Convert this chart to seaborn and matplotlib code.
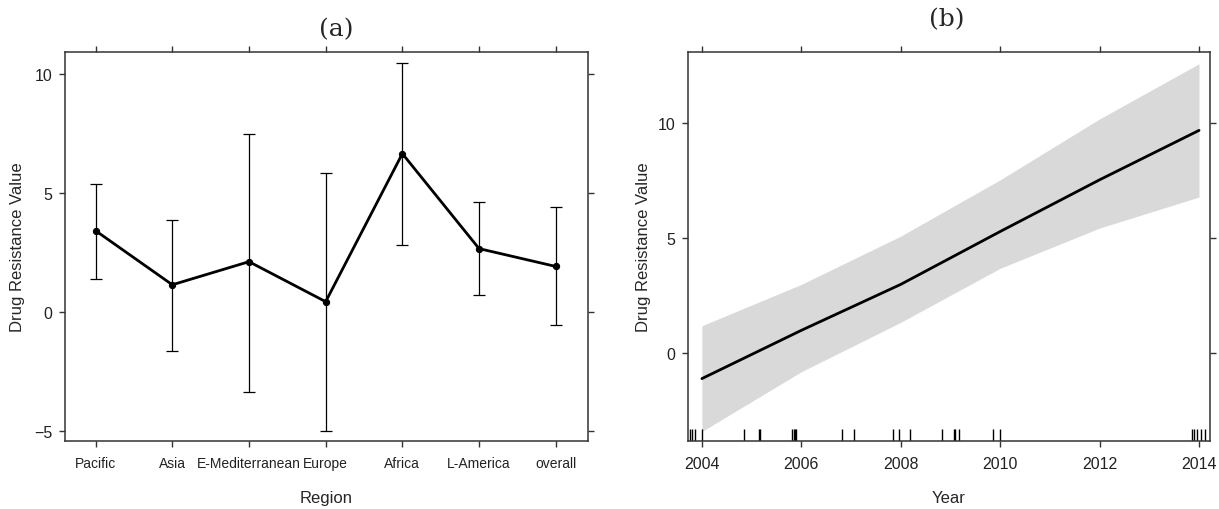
import numpy as np
import pandas as pd
import matplotlib
matplotlib.use('agg')
import seaborn as sns
import matplotlib.pyplot as plt

# panel (a): estimates by region with intervals
regions = ["Pacific", "Asia", "E-Mediterranean", "Europe", "Africa", "L-America", "overall"]
region_est = [3.4, 1.13, 2.1, 0.42, 6.64, 2.65, 1.9]
region_lo = [1.39, -1.64, -3.36, -5.0, 2.8, 0.7, -0.55]
region_hi = [5.35, 3.87, 7.48, 5.84, 10.46, 4.62, 4.4]

# panel (b): fitted trend over year with band
fit_year = [2004, 2006, 2008, 2010, 2012, 2014]
fit_value = [-1.1, 1.0, 3.0, 5.3, 7.55, 9.7]
fit_lo = [-3.4, -0.8, 1.35, 3.7, 5.45, 6.8]
fit_hi = [1.2, 3.0, 5.1, 7.55, 10.2, 12.6]

# observed years (rug)
obs_year = [2003.76, 2003.81, 2003.87, 2004.0, 2004.85, 2005.14, 2005.17,
            2005.82, 2005.85, 2005.88, 2005.90, 2006.82, 2007.06, 2007.84,
            2007.97, 2008.19, 2008.83, 2009.07, 2009.10, 2009.17, 2009.86,
            2010.0, 2013.86, 2013.90, 2013.95, 2014.04, 2014.12]

sns.set_style("ticks")
plt.rcParams['font.family'] = ['Liberation Sans', 'DejaVu Sans']
edge = '#333333'
plt.rcParams.update({
    'axes.edgecolor': edge, 'axes.linewidth': 1.1,
    'xtick.color': edge, 'ytick.color': edge,
    'xtick.labelcolor': '#222222', 'ytick.labelcolor': '#222222',
    'xtick.major.size': 4.3, 'ytick.major.size': 4.3,
    'xtick.major.width': 1.0, 'ytick.major.width': 1.0,
})

fig = plt.figure(figsize=(12.19, 5.10), dpi=100)
ax1 = fig.add_axes([0.0533, 0.134, 0.429, 0.7616])
ax2 = fig.add_axes([0.5644, 0.134, 0.4282, 0.7616])

# ---- panel a
pos = np.arange(len(regions))
dfa = pd.DataFrame({'pos': pos, 'est': region_est})
ax1.errorbar(pos, region_est,
             yerr=[np.array(region_est) - np.array(region_lo),
                   np.array(region_hi) - np.array(region_est)],
             fmt='none', ecolor='black', elinewidth=0.9, capsize=4.5, capthick=0.9)
sns.lineplot(data=dfa, x='pos', y='est', ax=ax1, color='black', lw=2,
             marker='o', markersize=4.5, markeredgecolor='black')
ax1.set_xlim(-0.40, 6.42)
ax1.set_ylim(-5.42, 10.9)
ax1.set_xticks(pos)
ax1.set_xticklabels(regions)
ax1.set_yticks([-5, 0, 5, 10])
ax1.set_xlabel("Region", fontsize=12)
ax1.set_ylabel("Drug Resistance Value", fontsize=12)
ax1.xaxis.set_label_coords(0.5, -0.128)
ax1.yaxis.set_label_coords(-0.077, 0.5)

# ---- panel b
dfb = pd.DataFrame({'year': fit_year, 'value': fit_value})
ax2.fill_between(fit_year, fit_lo, fit_hi, color='#d9d9d9', lw=0)
sns.lineplot(data=dfb, x='year', y='value', ax=ax2, color='black', lw=2)
sns.rugplot(x=obs_year, ax=ax2, height=0.03, color='black', lw=0.9)
ax2.set_xlim(2003.72, 2014.22)
ax2.set_ylim(-3.8, 13.1)
ax2.set_xticks([2004, 2006, 2008, 2010, 2012, 2014])
ax2.set_yticks([0, 5, 10])
ax2.set_xlabel("Year", fontsize=12)
ax2.set_ylabel("Drug Resistance Value", fontsize=12)
ax2.xaxis.set_label_coords(0.5, -0.128)
ax2.yaxis.set_label_coords(-0.07, 0.5)

for ax in (ax1, ax2):
    for s in ax.spines.values():
        s.set_visible(True)
    ax.tick_params(axis='both', which='both', direction='out',
                   top=True, right=True, labeltop=False, labelright=False,
                   labelsize=11.5)
    ax.tick_params(axis='x', pad=7)
    ax.tick_params(axis='y', pad=5)
    ax.grid(False)
ax1.tick_params(axis='x', labelsize=10)

fig.text(336 / 1219, 1 - 30 / 510, "(a)", fontsize=18, family='DejaVu Serif',
         ha='center', va='center')
fig.text(947 / 1219, 1 - 20 / 510, "(b)", fontsize=18, family='DejaVu Serif',
         ha='center', va='center')

fig.savefig("out.png", dpi=100)
